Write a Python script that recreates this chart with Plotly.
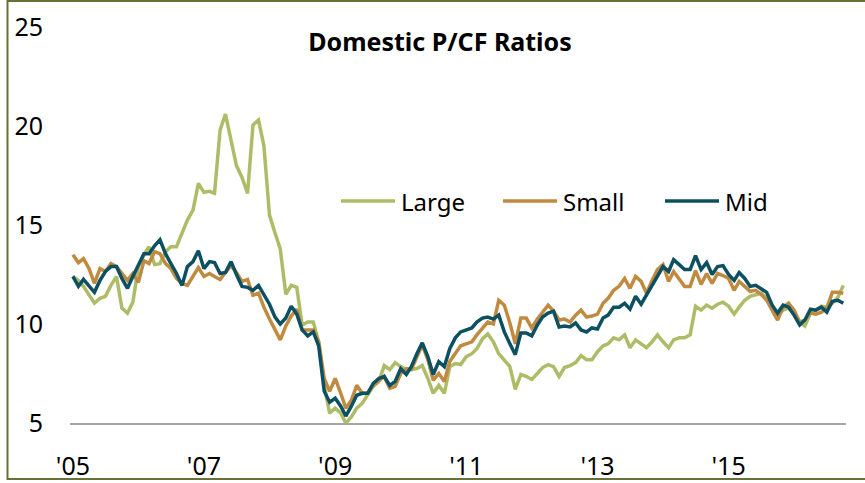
import pandas as pd
import plotly.graph_objects as go

months = pd.date_range("2005-01-01", "2016-10-01", freq="MS")

large = [12.4, 12.2, 11.9, 11.45, 11.05, 11.3, 11.4, 11.95, 12.4, 10.8, 10.55, 11.1,
         12.9, 13.5, 13.9, 13.0, 13.05, 13.65, 13.9, 13.9, 14.6, 15.25, 15.75, 17.1,
         16.65, 16.7, 16.6, 19.8, 20.6, 19.3, 18.0, 17.4, 16.6, 20.05, 20.3, 19.0,
         15.5, 14.6, 13.8, 11.5, 11.95, 11.85, 9.95, 10.1, 10.1, 9.1, 6.9, 5.5,
         5.75, 5.5, 5.0, 5.3, 5.75, 6.0, 6.4, 6.85, 7.1, 7.9, 7.7, 8.05,
         7.85, 7.7, 7.7, 7.75, 7.9, 7.25, 6.5, 6.9, 6.5, 7.85, 8.0, 7.95,
         8.35, 8.5, 8.75, 9.25, 9.5, 9.1, 8.5, 8.2, 7.85, 6.7, 7.45, 7.35,
         7.2, 7.5, 7.8, 7.95, 7.85, 7.35, 7.8, 7.9, 8.05, 8.4, 8.2, 8.2,
         8.6, 8.9, 9.0, 9.3, 9.2, 9.45, 8.8, 9.2, 9.0, 8.8, 9.1, 9.45,
         9.1, 8.8, 9.2, 9.3, 9.3, 9.45, 10.9, 10.7, 10.95, 10.8, 11.0, 11.1,
         10.9, 10.5, 10.85, 11.2, 11.4, 11.5, 11.55, 11.3, 10.9, 10.45, 10.7, 10.8,
         10.55, 10.1, 9.9, 10.55, 10.7, 10.9, 10.85, 11.05, 11.35, 11.95]

small = [13.5, 13.1, 13.3, 12.8, 12.05, 12.8, 12.65, 13.05, 12.9, 12.55, 12.2, 12.55,
         12.1, 13.2, 13.05, 13.65, 13.55, 13.05, 12.8, 12.3, 12.05, 11.95, 12.4, 12.85,
         12.4, 12.55, 12.4, 12.25, 12.6, 12.95, 12.6, 12.15, 12.25, 11.45, 11.55, 10.85,
         10.25, 9.75, 9.2, 9.9, 10.4, 10.75, 9.7, 9.7, 9.7, 9.1, 7.25, 6.6,
         7.25, 6.5, 5.75, 6.15, 6.9, 6.5, 6.5, 6.9, 7.15, 7.35, 6.75, 6.85,
         7.5, 7.75, 7.7, 8.35, 8.95, 8.2, 7.15, 7.5, 7.1, 8.1, 8.5, 8.9,
         9.0, 9.1, 9.45, 9.8, 10.1, 10.0, 11.2, 10.95, 10.05, 9.0, 10.3, 10.3,
         9.8, 10.25, 10.6, 10.95, 10.65, 10.2, 10.25, 10.1, 10.45, 10.7, 10.35, 10.4,
         10.5, 11.05, 11.3, 11.7, 11.9, 12.3, 11.8, 12.4, 12.15, 11.55, 12.2, 12.75,
         13.0, 12.15, 12.65, 12.3, 11.9, 11.9, 12.7, 12.0, 12.55, 12.05, 12.55, 12.45,
         12.3, 11.7, 12.15, 11.9, 11.65, 11.7, 11.5, 11.2, 10.7, 10.2, 10.85, 11.05,
         10.7, 10.1, 10.2, 10.55, 10.5, 10.6, 10.8, 11.6, 11.6, 11.55]

mid = [12.4, 11.9, 12.25, 11.95, 11.6, 12.2, 12.65, 12.9, 12.9, 12.3, 11.8, 12.4,
       13.0, 13.55, 13.55, 13.95, 14.25, 13.55, 13.05, 12.55, 11.95, 12.9, 13.15, 13.7,
       12.8, 13.15, 13.1, 12.55, 12.6, 13.15, 12.5, 11.9, 11.85, 11.7, 11.95, 11.5,
       11.0, 10.35, 10.0, 10.3, 10.9, 10.5, 9.7, 9.4, 9.6, 8.9, 6.6, 6.05,
       6.25, 5.85, 5.35, 5.85, 6.4, 6.5, 6.5, 7.0, 7.25, 7.35, 6.9, 7.1,
       7.75, 7.45, 7.85, 8.5, 9.05, 8.35, 7.45, 8.1, 7.85, 8.75, 9.3, 9.6,
       9.7, 9.8, 10.1, 10.3, 10.35, 10.25, 10.45, 9.6, 9.0, 8.45, 9.55, 9.55,
       9.4, 9.95, 10.35, 10.55, 10.65, 9.85, 9.9, 9.85, 10.05, 9.7, 9.6, 9.8,
       9.75, 10.3, 10.45, 10.85, 10.85, 11.05, 10.75, 11.4, 11.0, 11.45, 11.95, 12.45,
       12.9, 12.65, 13.25, 13.0, 12.75, 12.75, 13.45, 12.75, 13.1, 12.5, 12.9, 12.95,
       12.5, 12.2, 12.6, 12.3, 11.9, 11.95, 11.8, 11.6, 10.95, 10.55, 10.95, 10.85,
       10.45, 9.95, 10.2, 10.75, 10.7, 10.85, 10.6, 11.15, 11.2, 11.05]

tick_dates = ["2005-01-01", "2007-01-01", "2009-01-01", "2011-01-01", "2013-01-01", "2015-01-01"]
tick_labels = ["'05", "'07", "'09", "'11", "'13", "'15"]
y_ticks = [5, 10, 15, 20, 25]

series = [("Large", large, "#adbd67"), ("Small", small, "#c08b40"), ("Mid", mid, "#0c5061")]

FONT = "Noto Sans"

fig = go.Figure()
for name, vals, color in series:
    fig.add_trace(go.Scatter(x=months, y=vals, name=name, mode="lines", showlegend=False,
                             line=dict(color=color, width=3.5)))

W, H = 865, 483
L, R, T, B = 70, 19, 27, 60
pw, ph = W - L - R, H - T - B

def px_x(x):
    return (x - L) / pw

def px_y(y):
    return (H - B - y) / ph

shapes = [dict(type="rect", xref="paper", yref="paper",
               x0=px_x(7.5), x1=px_x(866), y0=px_y(479), y1=px_y(1),
               line=dict(color="#6a7137", width=2), fillcolor="rgba(0,0,0,0)", layer="below")]
annotations = []
# legend: swatch line + label for each series
LEG_Y = 201
for (name, _, color), start in zip(series, [341, 503, 665]):
    shapes.append(dict(type="line", xref="paper", yref="paper",
                       x0=px_x(start), x1=px_x(start + 54), y0=px_y(LEG_Y), y1=px_y(LEG_Y),
                       line=dict(color=color, width=3.5), layer="above"))
    annotations.append(dict(text=name, xref="paper", yref="paper",
                            x=px_x(start + 58), y=px_y(LEG_Y), xanchor="left", yanchor="middle",
                            showarrow=False, font=dict(size=24, family=FONT, color="#000000")))

fig.update_layout(
    width=W, height=H,
    margin=dict(l=L, r=R, t=T, b=B, autoexpand=False),
    paper_bgcolor="white", plot_bgcolor="white",
    font=dict(family=FONT, size=24, color="#000000"),
    title=dict(text="<b>Domestic P/CF Ratios</b>", x=440 / W, xanchor="center",
               y=1 - 42 / H, yanchor="middle", font=dict(size=25, family=FONT)),
    showlegend=False,
    xaxis=dict(range=["2004-12-16", "2016-10-16"], tickvals=tick_dates, ticktext=tick_labels,
               showgrid=False, showline=True, linecolor="#a6a6a6", linewidth=1.5,
               ticks="", ticklabelstandoff=20, zeroline=False, fixedrange=True,
               automargin=False, tickfont=dict(size=25)),
    yaxis=dict(range=[5, 25], tickvals=y_ticks, showgrid=False, showline=False,
               ticks="", ticklabelstandoff=26, zeroline=False, fixedrange=True,
               automargin=False, tickfont=dict(size=25)),
    shapes=shapes,
    annotations=annotations,
)

fig.write_html("out.html", config={"displayModeBar": False},
               post_script="document.body.style.margin='0';document.body.style.overflow='hidden';")
